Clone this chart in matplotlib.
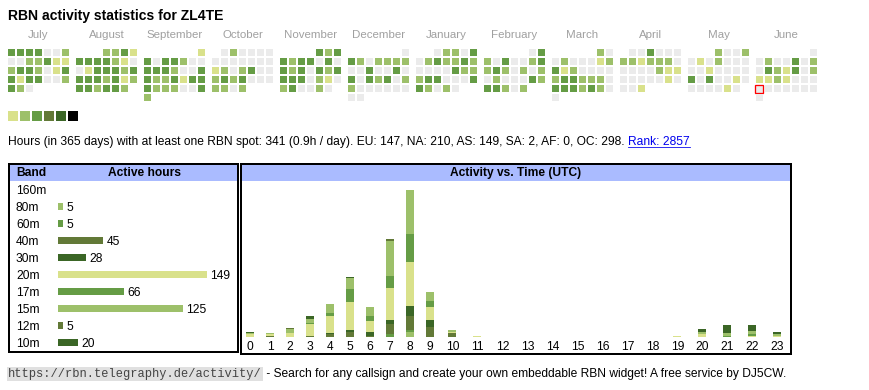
import calendar
import matplotlib
matplotlib.use('Agg')
import matplotlib.pyplot as plt
from matplotlib.patches import Rectangle
from matplotlib.lines import Line2D
import numpy as np

plt.rcParams['font.family'] = ['Liberation Sans', 'DejaVu Sans']

W, H = 870, 390
PT = 0.72  # points per pixel at dpi 100

# ---- data -------------------------------------------------------------
callsign = 'ZL4TE'
months = [(2024, 7), (2024, 8), (2024, 9), (2024, 10), (2024, 11), (2024, 12),
          (2025, 1), (2025, 2), (2025, 3), (2025, 4), (2025, 5), (2025, 6)]
month_names = ['July', 'August', 'September', 'October', 'November', 'December',
               'January', 'February', 'March', 'April', 'May', 'June']

# activity level per day (0 = no spot), one string per month
days_jul = '3333002' '0022311' '2332013' '3133002' '320'
days_aug = '2231' '3333210' '0133323' '3332312' '332332'
days_sep = '1' '3033200' '3332003' '3223133' '3222003' '2'
days_oct = '020000' '0000000' '1202300' '2323000' '2202'
days_nov = '323' '3233030' '3230323' '3330210' '230020'
days_dec = '0' '3202222' '0030030' '3032302' '2000000' '00'
days_jan = '02203' '0232232' '0000322' '2330003' '32020'
days_feb = '03' '2030023' '2320202' '0200032' '33202'
days_mar = '20' '0200012' '3120000' '2332220' '3332320' '0'
days_apr = '003000' '2212220' '0000211' '0000010' '001'
days_may = '2002' '0102000' '0010000' '3030010' '000010'
days_jun = '0' '0200302' '0321302' '1121000' '0000000' '0'
daily = [days_jul, days_aug, days_sep, days_oct, days_nov, days_dec,
         days_jan, days_feb, days_mar, days_apr, days_may, days_jun]
today = (2025, 6, 23)

level_colors = ['#ebebeb', '#d9e18b', '#9dc06a', '#659c45', '#627937', '#3b6626', '#000000']

bands = ['160m', '80m', '60m', '40m', '30m', '20m', '17m', '15m', '12m', '10m']
band_hours = [0, 5, 5, 45, 28, 149, 66, 125, 5, 20]
band_colors = ['#d9e18b', '#9dc06a', '#659c45', '#627937', '#3b6626',
               '#d9e18b', '#659c45', '#9dc06a', '#627937', '#3b6626']

hours = list(range(24))
#            0  1  2  3   4   5   6   7   8   9 10 11 12 13 14 15 16 17 18 19 20 21 22 23
h_160m = [0] * 24
h_80m  = [0, 0, 0, 0,  0,  0,  0,  0,  4,  0, 0, 0, 0, 0, 0, 0, 0, 0, 0, 0, 0, 0, 0, 0]
h_60m  = [0, 0, 0, 0,  0,  0,  0,  2,  2,  0, 0, 0, 0, 0, 0, 0, 0, 0, 0, 0, 0, 0, 0, 0]
h_40m  = [0, 1, 0, 1,  2,  4,  1,  9, 12,  9, 3, 0, 0, 0, 0, 0, 0, 0, 0, 0, 0, 0, 0, 0]
h_30m  = [0, 0, 0, 0,  1,  2,  3,  4,  9,  6, 0, 0, 0, 0, 0, 0, 0, 0, 0, 0, 0, 0, 0, 0]
h_20m  = [2, 1, 3, 10, 15, 25, 10, 28, 39, 11, 1, 1, 0, 0, 0, 0, 0, 0, 0, 1, 2, 0, 1, 1]
h_17m  = [0, 0, 0, 1,  3, 11,  4, 11, 25,  6, 0, 0, 0, 0, 0, 0, 0, 0, 0, 0, 0, 1, 1, 0]
h_15m  = [1, 1, 4, 4,  8, 10,  8, 31, 39,  8, 2, 0, 0, 0, 0, 0, 0, 0, 0, 0, 2, 2, 3, 1]
h_12m  = [0, 0, 1, 0,  0,  0,  0,  2,  0,  0, 0, 0, 0, 0, 0, 0, 0, 0, 0, 0, 0, 0, 0, 0]
h_10m  = [1, 0, 0, 2,  0,  1,  0,  0,  0,  0, 0, 0, 0, 0, 0, 0, 0, 0, 0, 0, 3, 7, 5, 2]
hourly = [h_160m, h_80m, h_60m, h_40m, h_30m, h_20m, h_17m, h_15m, h_12m, h_10m]

info = ('Hours (in 365 days) with at least one RBN spot: 341 (0.9h / day). '
        'EU: 147, NA: 210, AS: 149, SA: 2, AF: 0, OC: 298.')
rank = 'Rank: 2857'
url = 'https://rbn.telegraphy.de/activity/'
footer = ' - Search for any callsign and create your own embeddable RBN widget! A free service by DJ5CW.'

# ---- figure -----------------------------------------------------------
fig = plt.figure(figsize=(W / 100, H / 100), dpi=100)
ax = fig.add_axes([0, 0, 1, 1])
ax.set_xlim(0, W)
ax.set_ylim(H, 0)
ax.axis('off')


def px_axes(x0, y0, x1, y1):
    a = fig.add_axes([x0 / W, 1 - y1 / H, (x1 - x0) / W, (y1 - y0) / H])
    a.patch.set_visible(False)
    for s in a.spines.values():
        s.set_visible(False)
    return a


ax.text(8, 16, 'RBN activity statistics for ' + callsign, fontsize=14 * PT,
        fontweight='bold', va='center', ha='left')

# calendar heatmap
cell, pitch, block = 7, 9, 68
for m, ((yr, mo), name, levels) in enumerate(zip(months, month_names, daily)):
    x0 = 8 + block * m
    ax.text(x0 + 3 * pitch + cell / 2, 35, name, fontsize=11.5 * PT, color='#a0a0a0',
            ha='center', va='center')
    start = calendar.monthrange(yr, mo)[0]
    for d, lv in enumerate(levels):
        pos = start + d
        x = x0 + pitch * (pos % 7)
        y = 49 + pitch * (pos // 7)
        if (yr, mo, d + 1) == today:
            ax.add_patch(Rectangle((x - 0.5, y - 0.5), cell + 1, cell + 1,
                                   facecolor=level_colors[0], edgecolor='red', lw=1.3 * PT))
        else:
            ax.add_patch(Rectangle((x, y), cell, cell, color=level_colors[int(lv)], lw=0))

for i, c in enumerate(level_colors[1:]):
    ax.add_patch(Rectangle((8 + 12 * i, 111), 10, 10, color=c, lw=0))

t_info = ax.text(8, 142, info, fontsize=12 * PT, va='center', ha='left')
t_rank = ax.annotate(rank, xy=(1, 0), xycoords=t_info, xytext=(3.5 * PT, 0),
                     textcoords='offset points', fontsize=12 * PT, color='#0000ee',
                     va='bottom', ha='left')

# boxes and headers
ax.add_patch(Rectangle((10, 165), 227, 15.5, color='#aabbff', lw=0))
ax.add_patch(Rectangle((242, 165), 548, 15.5, color='#aabbff', lw=0))
ax.add_patch(Rectangle((9, 164), 229, 188, fill=False, edgecolor='black', lw=2 * PT))
ax.add_patch(Rectangle((241, 164), 550, 190, fill=False, edgecolor='black', lw=2 * PT))
ax.text(16, 173, 'Band', fontsize=12 * PT, fontweight='bold', va='center', ha='left')
ax.text(145, 173, 'Active hours', fontsize=12 * PT, fontweight='bold', va='center', ha='center')
ax.text(516, 173, 'Activity vs. Time (UTC)', fontsize=12 * PT, fontweight='bold',
        va='center', ha='center')

# band table
ax_b = px_axes(58, 180.8, 238, 350.5)
yb = np.arange(len(bands))
ax_b.barh(yb, band_hours, height=7 / 16.97, color=band_colors)
ax_b.set_xlim(0, 180)
ax_b.set_ylim(len(bands) - 0.5, -0.5)
ax_b.set_xticks([])
ax_b.set_yticks(yb, bands, fontsize=12 * PT)
ax_b.tick_params(axis='y', length=0, pad=42 * PT)
for lab in ax_b.get_yticklabels():
    lab.set_ha('left')
for y, v in zip(yb, band_hours):
    if v:
        ax_b.text(v + 3.5, y, str(v), fontsize=12 * PT, va='center_baseline', ha='left')

# activity vs time
ax_h = px_axes(240, 183, 790, 336.7)
widths = np.array([15 + 5 * len(str(h)) for h in hours])
centers = np.cumsum(widths) - widths / 2
bottom = np.zeros(24)
for vals, c in zip(hourly, band_colors):
    ax_h.bar(centers, vals, width=8, bottom=bottom, color=c, lw=0)
    bottom += np.array(vals)
ax_h.set_xlim(0, widths.sum())
ax_h.set_ylim(0, (336.7 - 183) / 1.125)
ax_h.set_yticks([])
ax_h.set_xticks(centers, [str(h) for h in hours], fontsize=12 * PT)
ax_h.tick_params(axis='x', length=0, pad=3)

# footer
t_url = ax.text(8, 374, url, fontsize=12 * PT, family='Liberation Mono', color='#444444',
                va='center', ha='left',
                bbox=dict(boxstyle='square,pad=0.12', facecolor='#e0e0e0', edgecolor='none'))
ax.annotate(footer, xy=(1, 0.5), xycoords=t_url, xytext=(1, 0), textcoords='offset points',
            fontsize=12 * PT, va='center', ha='left')

# underline the rank link
fig.canvas.draw()
bb = t_rank.get_window_extent()
fig.add_artist(Line2D([bb.x0, bb.x1], [bb.y0 + 1.5, bb.y0 + 1.5], color='#0000ee',
                      lw=0.8 * PT, transform=None))

fig.savefig('out.png', dpi=100)
